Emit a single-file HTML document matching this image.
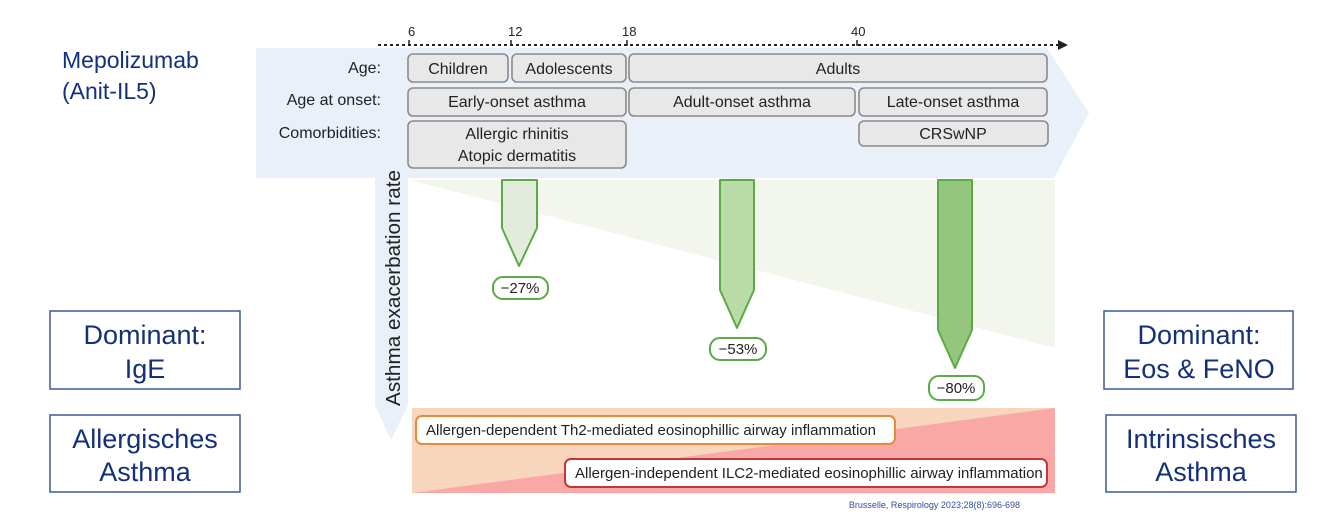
<!DOCTYPE html>
<html><head><meta charset="utf-8"><style>
body{margin:0;background:#fff;}
svg{display:block;}
text{font-family:"Liberation Sans Narrow","Liberation Sans",sans-serif;}
.b{font-family:"Liberation Sans",sans-serif;fill:#14307a;}
</style></head><body>
<svg width="1334" height="532" viewBox="0 0 1334 532" xmlns="http://www.w3.org/2000/svg">
<polygon points="256,48 1047,48 1089,113 1054,178 256,178" fill="#e9f0fa"/>
<polygon points="375,178 408,178 408,405 391,440 375,405" fill="#e9f0fa"/>
<polygon points="410,180 1055,180 1055,348" fill="#f3f6ec"/>
<rect x="412" y="408" width="643" height="85" fill="#f8d5bd"/>
<polygon points="1055,408 1055,493 412,493" fill="#f9a8a6"/>
<line x1="378" y1="45" x2="1058" y2="45" stroke="#222" stroke-width="2" stroke-dasharray="3,3"/>
<polygon points="1058,40 1068,45 1058,50" fill="#222"/>
<g stroke="#222" stroke-width="1.5"><line x1="409" y1="40" x2="409" y2="46"/><line x1="511" y1="40" x2="511" y2="46"/><line x1="627" y1="40" x2="627" y2="46"/><line x1="857" y1="40" x2="857" y2="46"/></g>
<g font-size="13" fill="#222"><text x="408" y="36">6</text><text x="508" y="36">12</text><text x="622" y="36">18</text><text x="851" y="36">40</text></g>
<g font-size="16" fill="#222" text-anchor="end"><text x="381" y="73">Age:</text><text x="381" y="105">Age at onset:</text><text x="381" y="138">Comorbidities:</text></g>
<g fill="#e8e8e8" stroke="#8a8a8a" stroke-width="1.6">
<rect x="408" y="54" width="100" height="28" rx="5"/>
<rect x="512" y="54" width="114" height="28" rx="5"/>
<rect x="629" y="54" width="418" height="28" rx="5"/>
<rect x="408" y="88" width="218" height="28" rx="5"/>
<rect x="629" y="88" width="226" height="28" rx="5"/>
<rect x="859" y="88" width="188" height="28" rx="5"/>
<rect x="408" y="121" width="218" height="47" rx="5"/>
<rect x="859" y="121" width="189" height="25" rx="5"/>
</g>
<g font-size="16" fill="#222" text-anchor="middle">
<text x="458" y="74">Children</text><text x="569" y="74">Adolescents</text><text x="838" y="74">Adults</text>
<text x="517" y="107">Early-onset asthma</text><text x="742" y="107">Adult-onset asthma</text><text x="953" y="107">Late-onset asthma</text>
<text x="517" y="139">Allergic rhinitis</text><text x="517" y="161">Atopic dermatitis</text>
<text x="953" y="139">CRSwNP</text>
</g>
<text transform="translate(400,406) rotate(-90)" font-size="20.5" fill="#222" style="font-family:'Liberation Sans',sans-serif" textLength="236" lengthAdjust="spacingAndGlyphs">Asthma exacerbation rate</text>
<g stroke="#5aab45" stroke-width="2" stroke-linejoin="round">
<polygon points="502,180 537,180 537,228 519,266 502,228" fill="#e3ebdc"/>
<polygon points="720,180 754,180 754,290 737,328 720,290" fill="#b9dba8"/>
<polygon points="938,180 972,180 972,330 955,368 938,330" fill="#95c67e"/>
</g>
<g fill="#fff" stroke="#5aab45" stroke-width="2">
<rect x="493" y="277" width="55" height="22" rx="10"/>
<rect x="710" y="338" width="56" height="22" rx="10"/>
<rect x="929" y="376" width="55" height="24" rx="10"/>
</g>
<g font-size="15" fill="#222" text-anchor="middle"><text x="520" y="293">−27%</text><text x="738" y="354">−53%</text><text x="956" y="393">−80%</text></g>
<rect x="416" y="416" width="479" height="28" rx="6" fill="#fff" stroke="#e8893a" stroke-width="2"/>
<rect x="565" y="459" width="482" height="28" rx="6" fill="#fff" stroke="#c0383a" stroke-width="2"/>
<g font-size="15" fill="#222"><text x="426" y="435">Allergen-dependent Th2-mediated eosinophillic airway inflammation</text><text x="575" y="478">Allergen-independent ILC2-mediated eosinophillic airway inflammation</text></g>
<text x="1020" y="508" font-size="9" fill="#2b4fa0" text-anchor="end">Brusselle, Respirology 2023;28(8):696-698</text>
<text class="b" x="62" y="68" font-size="23">Mepolizumab</text>
<text class="b" x="62" y="99" font-size="23">(Anit-IL5)</text>
<g fill="#fff" stroke="#3a5a98" stroke-width="1.5">
<rect x="50" y="311" width="190" height="78"/><rect x="50" y="415" width="190" height="77"/>
<rect x="1104" y="311" width="189" height="78"/><rect x="1106" y="415" width="190" height="77"/>
</g>
<g font-size="27" text-anchor="middle" style="font-family:'Liberation Sans',sans-serif;fill:#14307a">
<text x="145" y="344">Dominant:</text><text x="145" y="378">IgE</text>
<text x="145" y="448">Allergisches</text><text x="145" y="481">Asthma</text>
<text x="1199" y="344">Dominant:</text><text x="1199" y="378">Eos &amp; FeNO</text>
<text x="1201" y="448">Intrinsisches</text><text x="1201" y="481">Asthma</text>
</g>
</svg>
</body></html>
